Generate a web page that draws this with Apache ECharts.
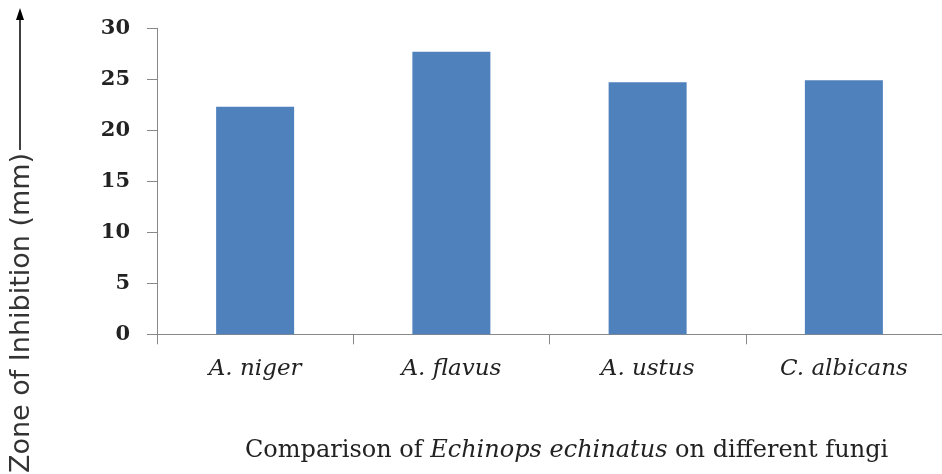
<!DOCTYPE html>
<html>
<head>
<meta charset="utf-8">
<script src="https://cdn.jsdelivr.net/npm/echarts@6/dist/echarts.min.js"></script>
<style>html,body{margin:0;padding:0;background:#fff}#c{width:942px;height:474px}</style>
</head>
<body>
<div id="c"></div>
<script>
const categories = ['A. niger', 'A. flavus', 'A. ustus', 'C. albicans'];
const zoneValues = [22.3, 27.7, 24.7, 24.9];
const yTicks = { min: 0, max: 30, interval: 5 };
const yTitle = 'Zone of Inhibition (mm)';
const xTitleParts = ['Comparison of ', 'Echinops echinatus', ' on different fungi'];

const chart = echarts.init(document.getElementById('c'), null, { renderer: 'canvas' });
chart.setOption({
  backgroundColor: '#fff',
  animation: false,
  grid: { left: 157, top: 28.3, width: 794, height: 306 },
  xAxis: {
    type: 'category',
    data: categories,
    boundaryGap: true,
    axisLine: { lineStyle: { color: '#888', width: 1 } },
    axisTick: { show: true, length: 10, lineStyle: { color: '#888' } },
    axisLabel: { fontFamily: 'DejaVu Serif', fontStyle: 'italic', fontSize: 23, color: '#222', margin: 23 }
  },
  yAxis: {
    type: 'value',
    min: yTicks.min, max: yTicks.max, interval: yTicks.interval,
    splitLine: { show: false },
    axisLine: { show: true, lineStyle: { color: '#888', width: 1 } },
    axisTick: { show: true, length: 10, lineStyle: { color: '#888' } },
    axisLabel: { fontFamily: 'DejaVu Serif', fontWeight: 'bold', fontSize: 21, color: '#222', margin: 27 }
  },
  series: [{
    type: 'bar',
    data: zoneValues,
    barWidth: 78,
    itemStyle: { color: '#4F81BD' }
  }],
  title: {
    text: '{n|' + xTitleParts[0] + '}{i|' + xTitleParts[1] + '}{n|' + xTitleParts[2] + '}',
    left: 240, top: 434,
    textStyle: {
      fontWeight: 'normal',
      rich: {
        n: { fontFamily: 'DejaVu Serif', fontWeight: 'normal', fontSize: 24, color: '#222' },
        i: { fontFamily: 'DejaVu Serif', fontWeight: 'normal', fontStyle: 'italic', fontSize: 24, color: '#222' }
      }
    }
  },
  graphic: [
    {
      type: 'text', x: 22, y: 313, rotation: Math.PI / 2,
      style: { text: yTitle, fontFamily: 'DejaVu Sans', fontSize: 27, fill: '#333', align: 'center', verticalAlign: 'middle' }
    },
    { type: 'line', shape: { x1: 20, y1: 150, x2: 20, y2: 16 }, style: { stroke: '#000', lineWidth: 1.5 } },
    { type: 'polygon', shape: { points: [[20, 8], [16, 20], [24, 20]] }, style: { fill: '#000' } }
  ]
});
</script>
</body>
</html>
